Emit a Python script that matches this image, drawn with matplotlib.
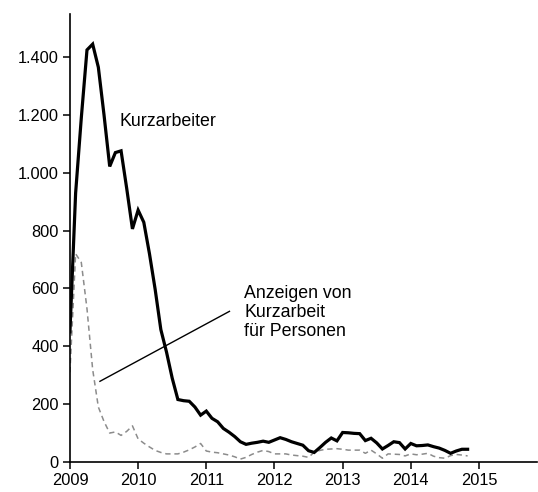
import numpy as np
import matplotlib
matplotlib.use("Agg")
import matplotlib.pyplot as plt
from matplotlib.ticker import FuncFormatter

plt.rcParams['font.family'] = ['Liberation Sans', 'DejaVu Sans']

# monthly data, Jan 2009 .. Nov 2014 (thousands)
kurzarbeiter = [450, 930, 1190, 1425, 1445, 1365, 1200, 1022, 1070, 1076, 945, 806,
                871, 829, 720, 597, 458, 380, 290, 216, 212, 210, 190, 162,
                176, 151, 139, 116, 103, 88, 70, 61, 65, 68, 72, 68,
                76, 84, 78, 70, 64, 58, 39, 33, 50, 68, 83, 73,
                102, 101, 99, 98, 74, 82, 66, 45, 57, 70, 67, 45,
                64, 56, 57, 59, 53, 48, 40, 30, 38, 44, 44]
anzeigen = [310, 720, 690, 530, 320, 190, 140, 100, 104, 92, 106, 125,
            80, 65, 52, 40, 33, 28, 28, 28, 34, 42, 52, 64,
            38, 34, 32, 28, 24, 18, 10, 16, 26, 34, 40, 36,
            28, 28, 28, 24, 22, 20, 16, 34, 40, 44, 45, 46,
            44, 41, 41, 41, 30, 41, 28, 13, 28, 27, 26, 21,
            28, 25, 27, 30, 20, 15, 13, 22, 26, 24, 21]
start_year = 2009
x_ticks = [2009, 2010, 2011, 2012, 2013, 2014, 2015]
y_ticks = [0, 200, 400, 600, 800, 1000, 1200, 1400]

x_k = start_year + np.arange(len(kurzarbeiter)) / 12.0
x_a = start_year + np.arange(len(anzeigen)) / 12.0

fig = plt.figure(figsize=(5.38, 4.92), dpi=100)
ax = fig.add_axes([0.130, 0.061, 0.868, 0.911])

ax.plot(x_a, anzeigen, color='#8c8c8c', lw=1.1, ls=(0, (3.5, 2.5)))
ax.plot(x_k, kurzarbeiter, color='black', lw=2.3, solid_joinstyle='miter')

ax.set_xlim(2009, 2015.85)
ax.set_ylim(0, 1550)
ax.set_xticks(x_ticks)
ax.set_yticks(y_ticks)
ax.yaxis.set_major_formatter(FuncFormatter(lambda v, p: f"{int(v):,}".replace(',', '.')))

for s in ['top', 'right']:
    ax.spines[s].set_visible(False)
for s in ['left', 'bottom']:
    ax.spines[s].set_linewidth(1.2)
ax.tick_params(axis='both', direction='out', length=5, width=1.1, labelsize=11.8, pad=3)

ax.text(2009.72, 1179, 'Kurzarbeiter', fontsize=12.8, va='center', ha='left')
ax.text(2011.56, 518, 'Anzeigen von\nKurzarbeit\nfür Personen', fontsize=12.8,
        va='center', ha='left', linespacing=1.15)
ax.plot([2009.44, 2011.34], [279, 521], color='black', lw=1.0)

fig.savefig('out.png', dpi=100)
